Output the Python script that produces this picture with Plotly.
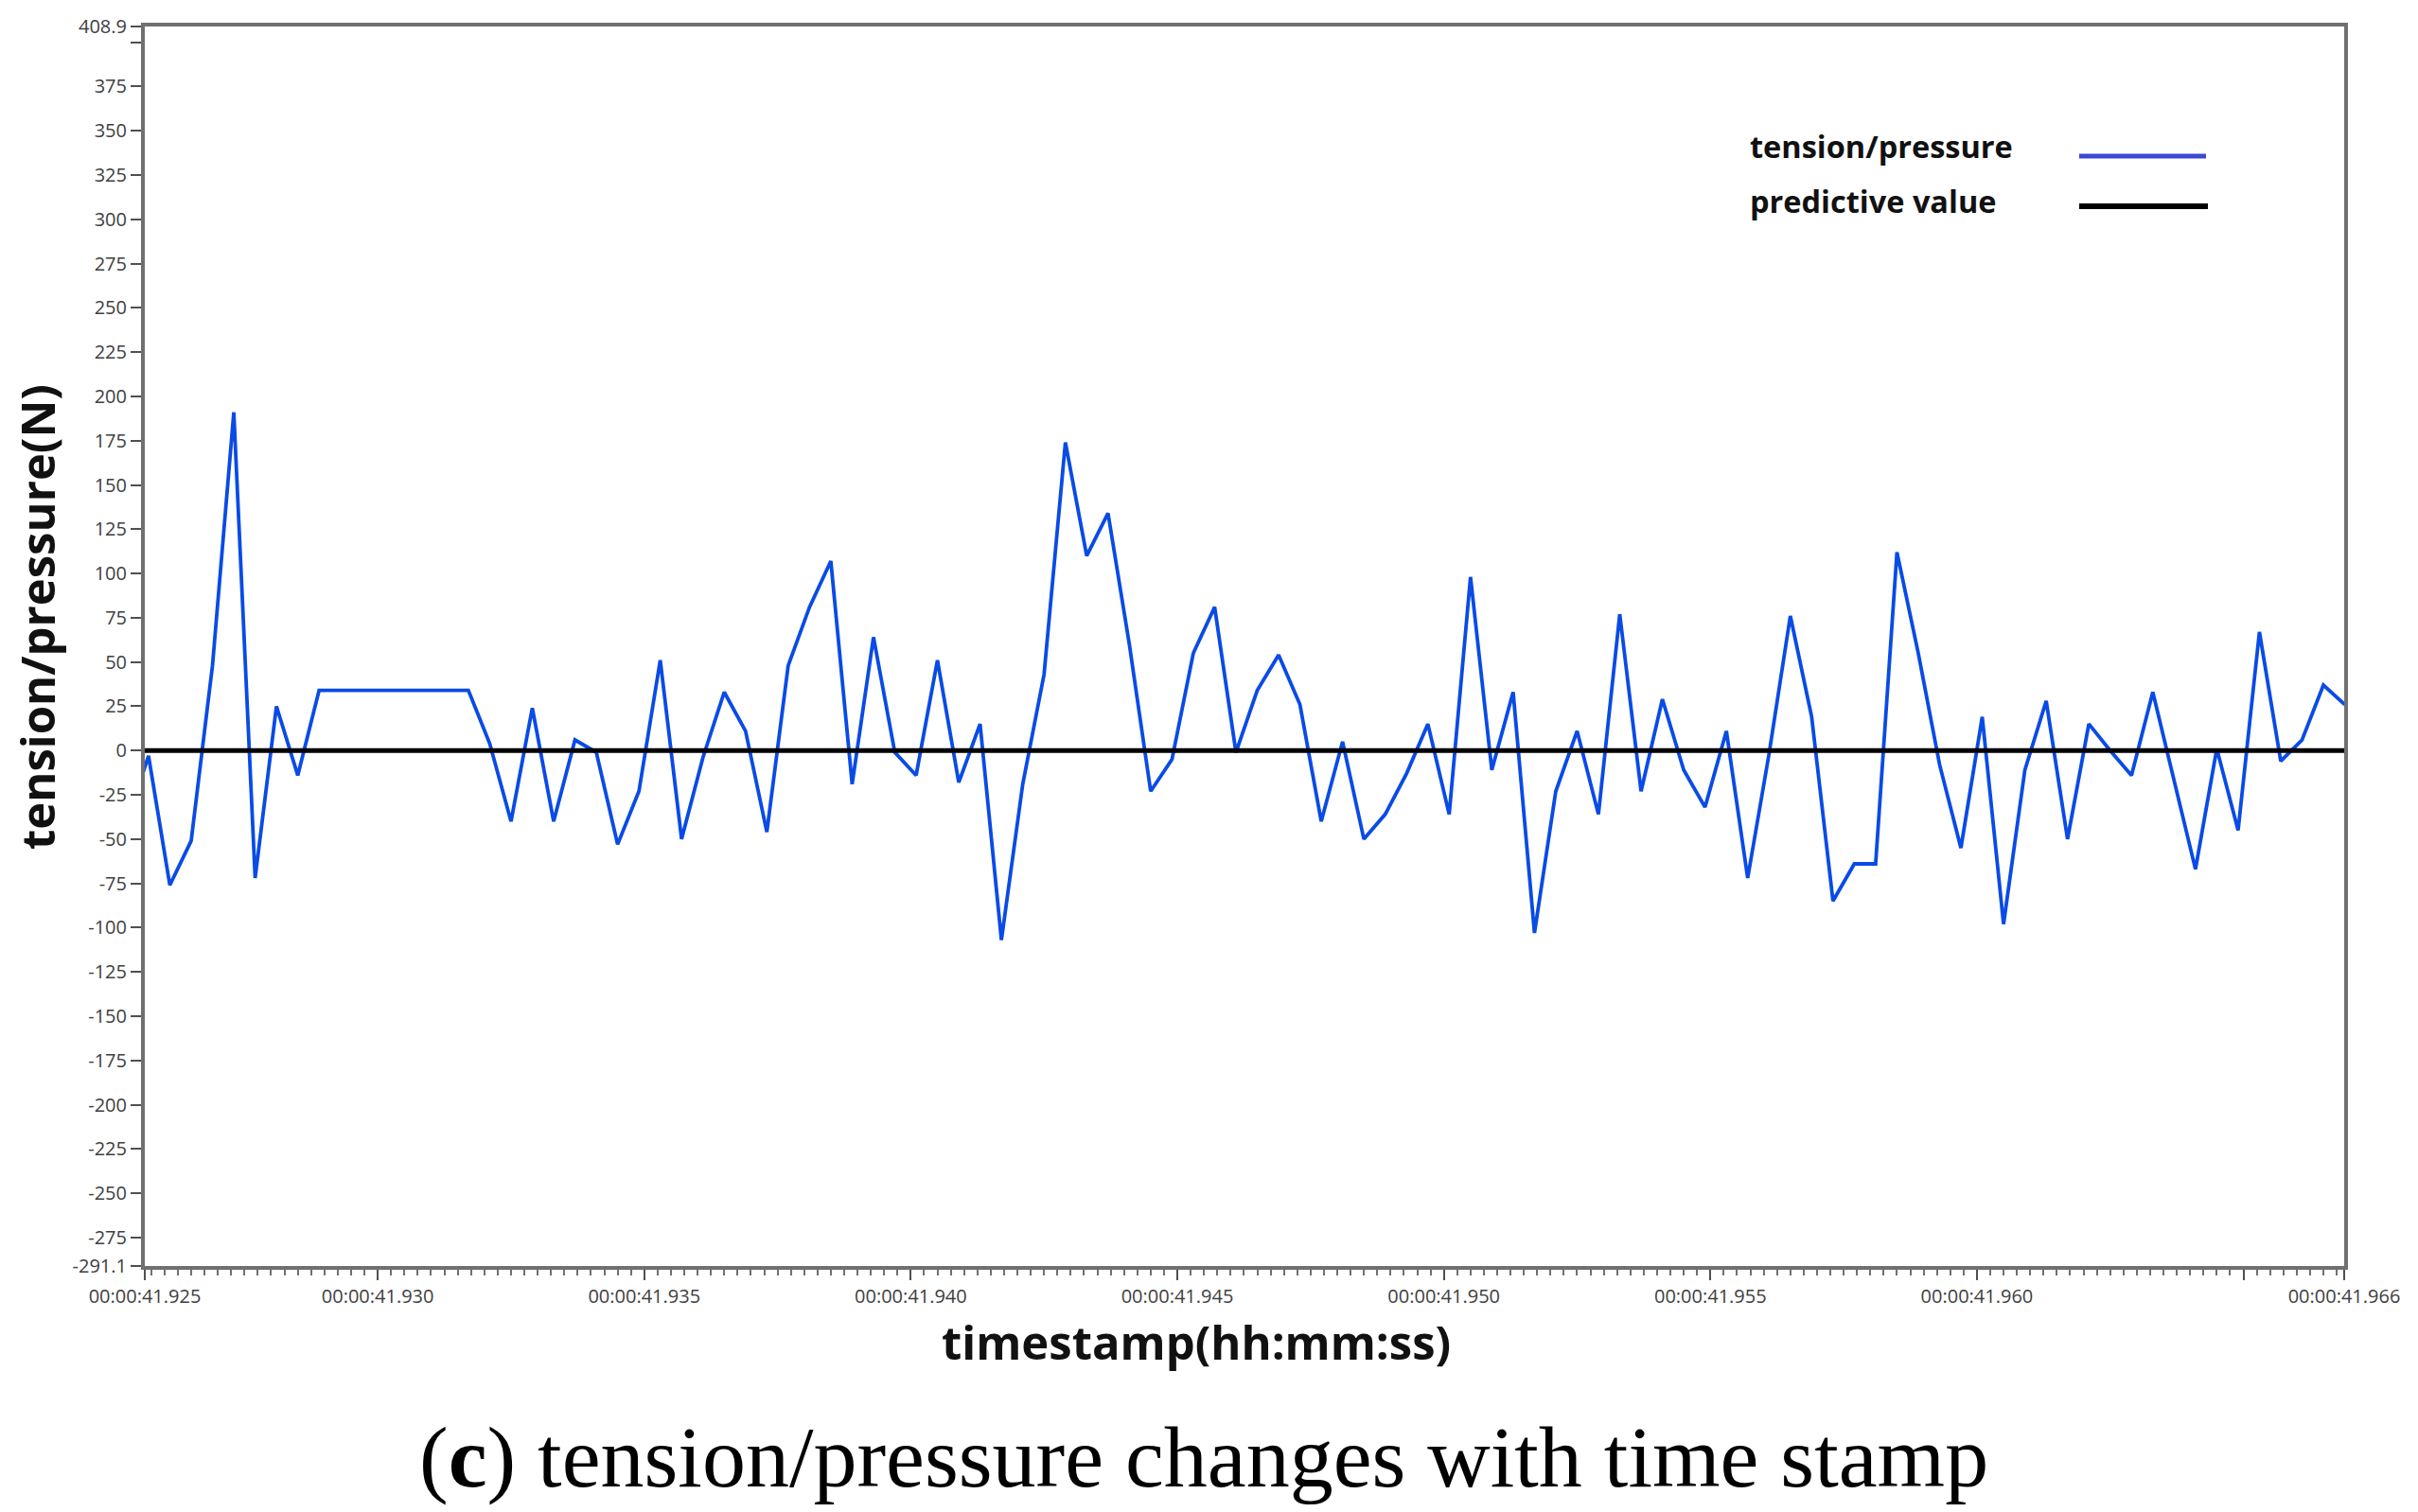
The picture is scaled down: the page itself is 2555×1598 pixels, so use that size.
import plotly.graph_objects as go

# ---------------- data ----------------
timestamps = [
    41.9253, 41.9257, 41.9261, 41.9265, 41.9269, 41.9273, 41.9277, 41.9281, 41.9285, 41.9289,
    41.9293, 41.9297, 41.9301, 41.9305, 41.9309, 41.9313, 41.9317, 41.9321, 41.9325, 41.9329,
    41.9333, 41.9337, 41.9341, 41.9345, 41.9349, 41.9353, 41.9357, 41.9361, 41.9365, 41.9369,
    41.9373, 41.9377, 41.9381, 41.9385, 41.9389, 41.9393, 41.9397, 41.9401, 41.9405, 41.9409,
    41.9413, 41.9417, 41.9421, 41.9425, 41.9429, 41.9433, 41.9437, 41.9441, 41.9445, 41.9449,
    41.9453, 41.9457, 41.9461, 41.9465, 41.9469, 41.9473, 41.9477, 41.9481, 41.9485, 41.9489,
    41.9493, 41.9497, 41.9501, 41.9505, 41.9509, 41.9513, 41.9517, 41.9521, 41.9525, 41.9529,
    41.9533, 41.9537, 41.9541, 41.9545, 41.9549, 41.9553, 41.9557, 41.9561, 41.9565, 41.9569,
    41.9573, 41.9577, 41.9581, 41.9585, 41.9589, 41.9593, 41.9597, 41.9601, 41.9605, 41.9609,
    41.9613, 41.9617, 41.9621, 41.9625, 41.9629, 41.9633, 41.9637, 41.9641, 41.9645, 41.9649,
    41.9653, 41.9657, 41.9661, 41.9665, 41.9669,
]

tension_pressure = [
    -40, -3, -76, -51, 48, 191, -72, 25, -14, 34,
    34, 34, 34, 34, 34, 34, 34, 4, -40, 24,
    -40, 6, -1, -53, -23, 51, -50, -4, 33, 11,
    -46, 48, 81, 107, -19, 64, -1, -14, 51, -18,
    15, -107, -19, 43, 174, 110, 134, 60, -23, -5,
    55, 81, -1, 34, 54, 26, -40, 5, -50, -36,
    -13, 15, -36, 98, -11, 33, -103, -23, 11, -36,
    77, -23, 29, -11, -32, 11, -72, -2, 76, 19,
    -85, -64, -64, 112, 55, -8, -55, 19, -98, -11,
    28, -50, 15, 0, -14, 33, -17, -67, 1, -45,
    67, -6, 6, 37, 26,
]

x_range = [41.92563, 41.96689]
y_range = [-291.1, 408.9]

predictive_times = [x_range[0], x_range[1]]
predictive_values = [0, 0]

x_tick_vals = [x_range[0], 41.930, 41.935, 41.940, 41.945, 41.950, 41.955, 41.960, 41.965, x_range[1]]
x_tick_text = ["00:00:41.925", "00:00:41.930", "00:00:41.935", "00:00:41.940", "00:00:41.945",
               "00:00:41.950", "00:00:41.955", "00:00:41.960", "", "00:00:41.966"]

y_tick_vals = [-291.1, -275, -250, -225, -200, -175, -150, -125, -100, -75, -50, -25, 0,
               25, 50, 75, 100, 125, 150, 175, 200, 225, 250, 275, 300, 325, 350, 375, 400, 408.9]
y_tick_text = ["-291.1", "-275", "-250", "-225", "-200", "-175", "-150", "-125", "-100", "-75",
               "-50", "-25", "0", "25", "50", "75", "100", "125", "150", "175", "200", "225",
               "250", "275", "300", "325", "350", "375", "", "408.9"]

series_names = ["tension/pressure", "predictive value"]
series_colors = ["#0a4be6", "#000000"]
legend_colors = ["#3c48d4", "#000000"]

x_title = "timestamp(hh:mm:ss)"
y_title = "tension/pressure(N)"
caption = "(<b>c</b>) tension/pressure changes with time stamp"

# ---------------- layout geometry (pixels) ----------------
W, H = 2555, 1598
L, R, T, B = 153, 2477, 28, 1338


def px_x(x):
    return (x - L) / (R - L)


def px_y(y):
    return (B - y) / (B - T)


fig = go.Figure()

fig.add_trace(go.Scatter(
    x=timestamps, y=tension_pressure, mode="lines", name=series_names[0],
    line=dict(color=series_colors[0], width=3.8), showlegend=False,
))
fig.add_trace(go.Scatter(
    x=predictive_times, y=predictive_values, mode="lines", name=series_names[1],
    line=dict(color=series_colors[1], width=5), showlegend=False,
))

tick_font = dict(family="Open Sans, Noto Sans, sans-serif", size=20, color="#404040")

fig.update_xaxes(
    range=x_range, tickmode="array", tickvals=x_tick_vals, ticktext=x_tick_text,
    ticks="outside", ticklen=11, tickwidth=2, tickcolor="#505050",
    tickfont=tick_font, showgrid=False, zeroline=False,
    showline=True, linewidth=4, linecolor="#707070", mirror=True,
    minor=dict(tickmode="linear", tick0=41.925, dtick=0.00025, ticks="outside",
               ticklen=6, tickwidth=2, tickcolor="#707070", showgrid=False),
)
fig.update_yaxes(
    range=y_range, tickmode="array", tickvals=y_tick_vals, ticktext=y_tick_text,
    ticks="outside", ticklen=11, tickwidth=2, tickcolor="#505050",
    tickfont=tick_font, showgrid=False, zeroline=False,
    showline=True, linewidth=4, linecolor="#707070", mirror=True,
)

title_font = dict(family="Open Sans, Noto Sans, sans-serif", size=49, color="#111111")
legend_font = dict(family="Open Sans, Noto Sans, sans-serif", size=32.5, color="#111111")

annotations = [
    dict(text="<b>" + y_title + "</b>", x=px_x(39), y=px_y(652), xref="paper", yref="paper",
         textangle=-90, showarrow=False, font=title_font, xanchor="center", yanchor="middle"),
    dict(text="<b>" + x_title + "</b>", x=px_x(1264), y=px_y(1418), xref="paper", yref="paper",
         showarrow=False, font=dict(title_font, size=49), xanchor="center", yanchor="middle"),
    dict(text=caption, x=px_x(1272), y=px_y(1540), xref="paper", yref="paper",
         showarrow=False, font=dict(family="Liberation Serif, DejaVu Serif, serif", size=92, color="#000000"),
         xanchor="center", yanchor="middle"),
    dict(text="<b>" + series_names[0] + "</b>", x=px_x(1847), y=px_y(154), xref="paper", yref="paper",
         showarrow=False, font=legend_font, xanchor="left", yanchor="middle"),
    dict(text="<b>" + series_names[1] + "</b>", x=px_x(1847), y=px_y(213), xref="paper", yref="paper",
         showarrow=False, font=legend_font, xanchor="left", yanchor="middle"),
]

shapes = [
    dict(type="line", xref="paper", yref="paper", x0=px_x(2197), x1=px_x(2331), y0=px_y(165), y1=px_y(165),
         line=dict(color=legend_colors[0], width=5)),
    dict(type="line", xref="paper", yref="paper", x0=px_x(2197), x1=px_x(2333), y0=px_y(218), y1=px_y(218),
         line=dict(color=legend_colors[1], width=6)),
]

fig.update_layout(
    width=W, height=H,
    margin=dict(l=L, r=W - R, t=T, b=H - B, pad=0),
    paper_bgcolor="white", plot_bgcolor="white",
    annotations=annotations, shapes=shapes, showlegend=False,
)

fig.write_html("out.html", config={"displayModeBar": False},
               post_script="document.body.style.margin='0';")
